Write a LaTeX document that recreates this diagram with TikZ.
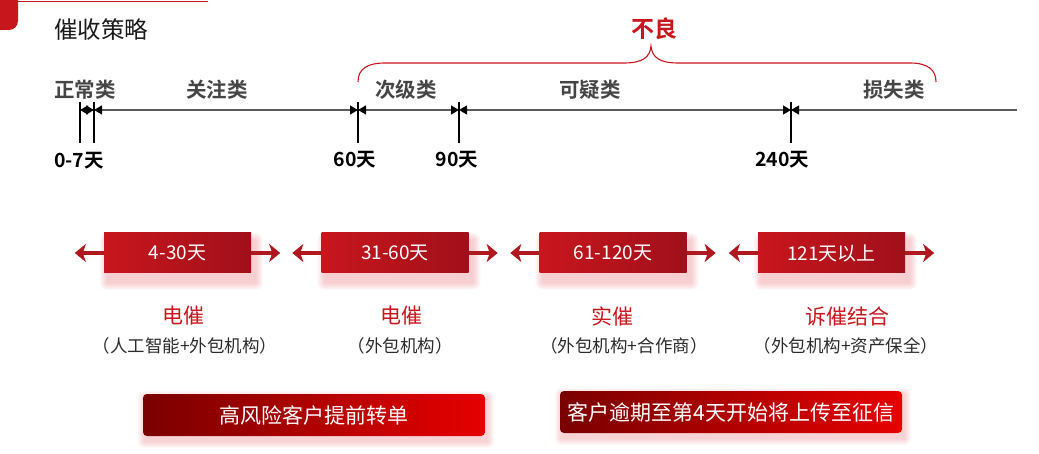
\documentclass[tikz,border=0pt]{standalone}
\usepackage{fontspec}
\setmainfont{Noto Sans CJK SC}[BoldFont={Noto Sans CJK SC Bold}]
\usepackage{tikz}
\usetikzlibrary{arrows.meta,positioning,calc,backgrounds}

\definecolor{brandred}{HTML}{C8161D}
\definecolor{titlegray}{HTML}{1A1A1A}
\definecolor{labelgray}{HTML}{454545}
\definecolor{linegray}{HTML}{5A5A5A}
\definecolor{darktext}{HTML}{2B2B2B}
\definecolor{boxredL}{HTML}{C8161D}
\definecolor{boxredR}{HTML}{A0101A}
\definecolor{arrowred}{HTML}{B01820}
\definecolor{noteL}{HTML}{7A0000}
\definecolor{noteR}{HTML}{E60000}
\definecolor{glowpink}{HTML}{E8707A}

\begin{document}
\begin{tikzpicture}[x=1pt, y=-1pt,
title/.style={font=\fontsize{23.5}{23.5}\selectfont, text=titlegray},
seglabel/.style={font=\bfseries\fontsize{20.5}{20.5}\selectfont, text=labelgray},
daylabel/.style={font=\bfseries\fontsize{19.5}{19.5}\selectfont, text=black},
tickline/.style={draw=black, line width=1.3pt},
seg/.style={draw=linegray, line width=1.2pt, {Triangle[length=8pt,width=9pt,color=black]}-{Triangle[length=8pt,width=9pt,color=black]}},
segopen/.style={draw=linegray, line width=1.2pt, {Triangle[length=8pt,width=9pt,color=black]}-},
brace/.style={draw=brandred, line width=1.1pt},
periodbox/.style={rectangle, minimum width=147pt, minimum height=40pt, inner sep=0pt, left color=boxredL, right color=boxredR, text=white, font=\fontsize{19}{19}\selectfont},
redarrow/.style={draw=arrowred, line width=4pt, -{Stealth[length=11pt,width=18pt,inset=3pt]}},
method/.style={font=\fontsize{21}{21}\selectfont, text=brandred},
channel/.style={font=\fontsize{17.5}{17.5}\selectfont, text=darktext},
notebox/.style={rectangle, rounded corners=4pt, minimum width=342pt, minimum height=42pt, inner sep=0pt, left color=noteL, right color=noteR, text=white, font=\fontsize{21}{21}\selectfont},
glow/.style={fill=glowpink, opacity=0.05}
]
\useasboundingbox (0,0) rectangle (1039,454);

% header
\fill[brandred, rounded corners=9pt] (-12,-12) rectangle (18,30);
\draw[brandred, line width=1pt] (18,2) -- (208,2);
\node[title] (title) at (101,30) {催收策略};

% timeline
\coordinate (t1) at (80,110);
\coordinate (t2) at (94,110);
\coordinate (t3) at (358,110);
\coordinate (t4) at (459,110);
\coordinate (t5) at (791,110);
\coordinate (tend) at (1017,110);

\foreach \t in {t1,t2,t3,t4,t5}
  \draw[tickline] ([yshift=8pt]\t) -- ([yshift=-33pt]\t);

\draw[seg] (t1) -- (t2);
\draw[seg] (t2) -- (t3);
\draw[seg] (t3) -- (t4);
\draw[seg] (t4) -- (t5);
\draw[segopen] (t5) -- (tend);

\node[seglabel] (zc) at (85,90) {正常类};
\node[seglabel] (gz) at (217,90) {关注类};
\node[seglabel] (cj) at (406,90) {次级类};
\node[seglabel] (ky) at (590,90) {可疑类};
\node[seglabel] (ss) at (894,90) {损失类};

\node[daylabel] (d1) at (79,161) {0-7天};
\node[daylabel] (d3) at (355,160) {60天};
\node[daylabel] (d4) at (457,160) {90天};
\node[daylabel] (d5) at (782,160) {240天};

% brace
\coordinate (peak) at (651,46);
\draw[brace] (358,82) .. controls (358,69) and (367,63) .. (385,63) -- (624,63)
  .. controls (643,63) and (650,57) .. (peak)
  .. controls (652,57) and (659,63) .. (678,63) -- (910,63)
  .. controls (928,63) and (936,70) .. (936,82);
\node[font=\bfseries\fontsize{23}{23}\selectfont, text=brandred] (bl) at (654,29) {不良};

% periods
\node[periodbox] (b1) at (177.5,253) {4-30天};
\node[periodbox] (b2) at (395,253) {31-60天};
\node[periodbox] (b3) at (613,253) {61-120天};
\node[periodbox] (b4) at (831.5,253) {121天以上};

\foreach \b in {b1,b2,b3,b4}{
  \coordinate[left=29pt of \b.west] (\b l);
  \coordinate[right=29pt of \b.east] (\b r);
  \draw[redarrow] (\b.west) -- (\b l);
  \draw[redarrow] (\b.east) -- (\b r);
}

\node[method] (m1) at (183,316) {电催};
\node[method] (m2) at (401,316) {电催};
\node[method] (m3) at (612,316) {实催};
\node[method] (m4) at (847,316) {诉催结合};

\node[channel] (c1) at (185,346) {（人工智能+外包机构）};
\node[channel] (c2) at (400,346) {（外包机构）};
\node[channel] (c3) at (624,346) {（外包机构+合作商）};
\node[channel] (c4) at (846,346) {（外包机构+资产保全）};

% notes
\node[notebox] (n1) at (314,415) {高风险客户提前转单};
\node[notebox] (n2) at (731,412) {客户逾期至第4天开始将上传至征信};

\begin{scope}[on background layer]
\foreach \b in {b1,b2,b3,b4}
  \foreach \i in {1,...,8}
    \fill[glow, rounded corners=\i pt]
      ([shift={(-\i+4,-\i+8)}]\b.north west) rectangle ([shift={(\i+4,\i+9)}]\b.south east);
\foreach \n in {n1,n2}
  \foreach \i in {1,...,7}
    \fill[glow, rounded corners=\i pt]
      ([shift={(-\i+2,-\i+4)}]\n.north west) rectangle ([shift={(\i+2,\i+5)}]\n.south east);
\end{scope}
\end{tikzpicture}
\end{document}
